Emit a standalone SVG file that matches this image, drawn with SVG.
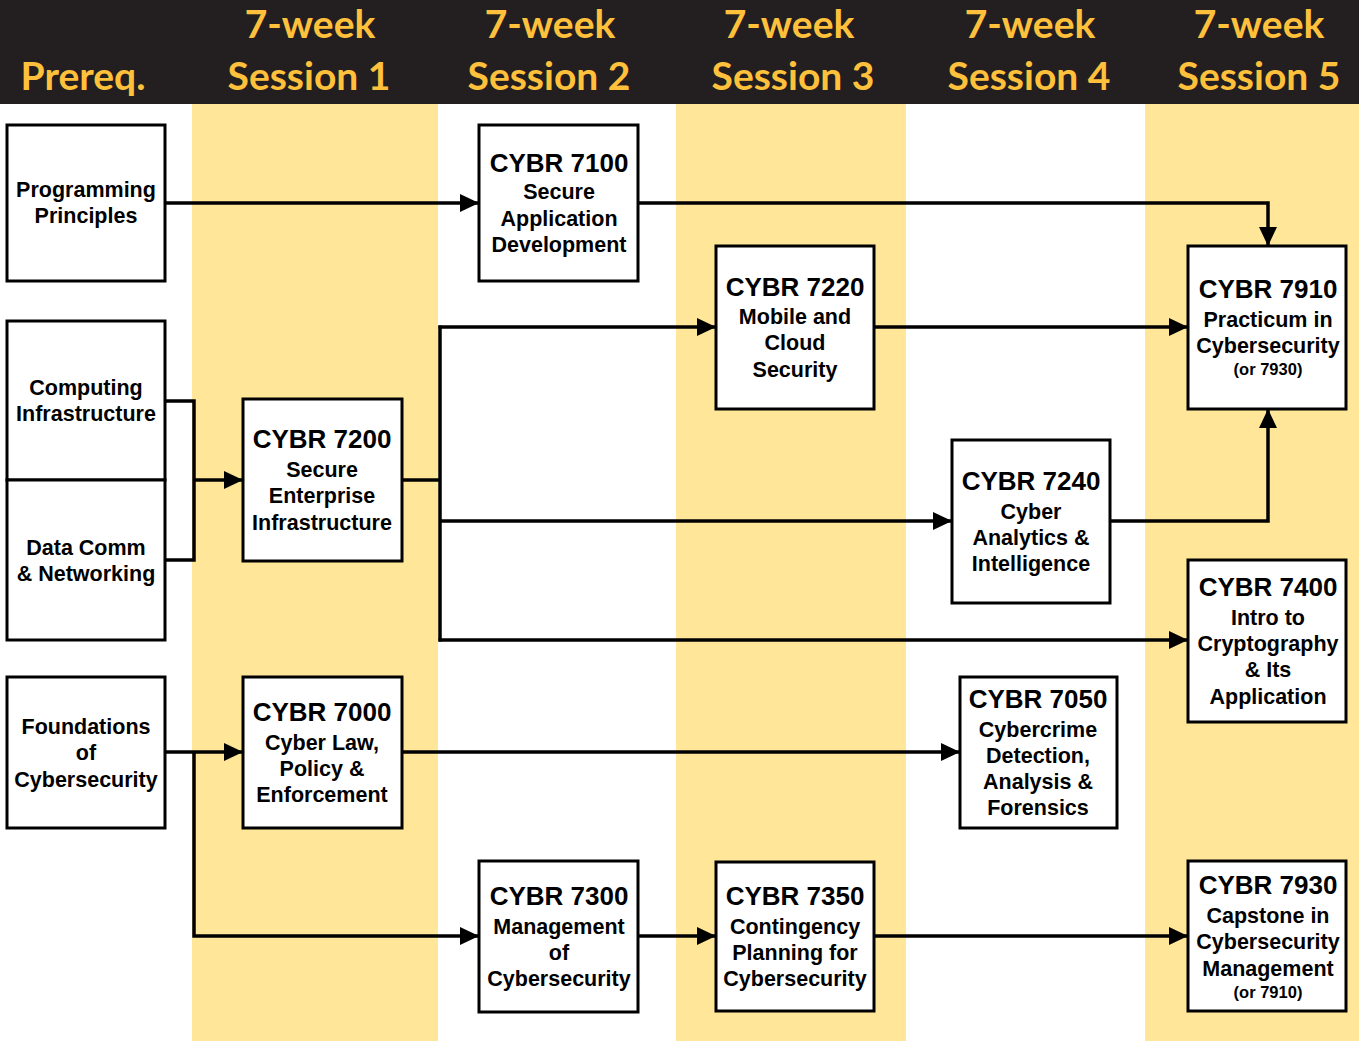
<svg xmlns="http://www.w3.org/2000/svg" width="1359" height="1041" viewBox="0 0 1359 1041">
<style>
.hd{font-family:Lato,"Liberation Sans",sans-serif;font-weight:bold;font-size:39px;fill:#FFC13B;text-anchor:middle}
.box{fill:#fff;stroke:#000;stroke-width:3}
.t{font-family:"Liberation Sans",Arial,sans-serif;font-weight:bold;text-anchor:middle;fill:#000}
.ti{font-size:26px}
.st{font-size:21.5px}
.sm{font-size:16.5px}
.ln{fill:none;stroke:#000;stroke-width:3.5;stroke-linejoin:miter}
.ar{marker-end:url(#ah)}
</style>
<defs>
<marker id="ah" viewBox="0 0 19 18" refX="19" refY="9" markerWidth="19" markerHeight="18" markerUnits="userSpaceOnUse" orient="auto">
<path d="M0,0 L19,9 L0,18 z" fill="#000"/>
</marker>
</defs>
<rect x="0" y="0" width="1359" height="1041" fill="#fff"/>
<g id="columns">
<rect x="192" y="104" width="246" height="937" fill="#FFE699"/>
<rect x="676" y="104" width="230" height="937" fill="#FFE699"/>
<rect x="1145" y="104" width="214" height="937" fill="#FFE699"/>
</g>
<g id="header">
<rect x="0" y="0" width="1359" height="104" fill="#231F20"/>
<text class="hd" x="83" y="90">Prereq.</text>
<text class="hd" x="310" y="38">7-week</text><text class="hd" x="309" y="90">Session 1</text>
<text class="hd" x="550" y="38">7-week</text><text class="hd" x="549" y="90">Session 2</text>
<text class="hd" x="789" y="38">7-week</text><text class="hd" x="793" y="90">Session 3</text>
<text class="hd" x="1030" y="38">7-week</text><text class="hd" x="1029" y="90">Session 4</text>
<text class="hd" x="1259" y="38">7-week</text><text class="hd" x="1259" y="90">Session 5</text>
</g>
<g id="connectors">
<path class="ln ar" d="M165,203 H479"/>
<path class="ln ar" d="M638,203 H1268 V246"/>
<path class="ln" d="M165,401 H194 V560 H165"/>
<path class="ln ar" d="M194,480 H243"/>
<path class="ln" d="M402,480 H440"/>
<path class="ln" d="M440,325.5 V641.5"/>
<path class="ln ar" d="M438.5,327 H716"/>
<path class="ln ar" d="M440,521 H952"/>
<path class="ln ar" d="M438.5,640 H1188"/>
<path class="ln ar" d="M874,327 H1188"/>
<path class="ln ar" d="M1110,521 H1268 V409"/>
<path class="ln ar" d="M165,752 H243"/>
<path class="ln ar" d="M194,752 V936 H479"/>
<path class="ln ar" d="M402,752 H960"/>
<path class="ln ar" d="M638,936 H716"/>
<path class="ln ar" d="M874,936 H1188"/>
</g>
<g id="n-prog">
<rect class="box" x="7" y="125" width="158" height="156"/>
<text class="t st" x="86" y="197">Programming</text>
<text class="t st" x="86" y="223">Principles</text>
</g>
<g id="n-comp">
<rect class="box" x="7" y="321" width="158" height="159"/>
<text class="t st" x="86" y="395">Computing</text>
<text class="t st" x="86" y="421">Infrastructure</text>
</g>
<g id="n-datacomm">
<rect class="box" x="7" y="480" width="158" height="160"/>
<text class="t st" x="86" y="555">Data Comm</text>
<text class="t st" x="86" y="581">&amp; Networking</text>
</g>
<g id="n-found">
<rect class="box" x="7" y="677" width="158" height="151"/>
<text class="t st" x="86" y="734">Foundations</text>
<text class="t st" x="86" y="760">of</text>
<text class="t st" x="86" y="787">Cybersecurity</text>
</g>
<g id="n-7100">
<rect class="box" x="479" y="125" width="159" height="156"/>
<text class="t ti" x="559" y="172">CYBR 7100</text>
<text class="t st" x="559" y="199">Secure</text>
<text class="t st" x="559" y="226">Application</text>
<text class="t st" x="559" y="252">Development</text>
</g>
<g id="n-7200">
<rect class="box" x="243" y="399" width="159" height="162"/>
<text class="t ti" x="322" y="448">CYBR 7200</text>
<text class="t st" x="322" y="477">Secure</text>
<text class="t st" x="322" y="503">Enterprise</text>
<text class="t st" x="322" y="530">Infrastructure</text>
</g>
<g id="n-7000">
<rect class="box" x="243" y="677" width="159" height="151"/>
<text class="t ti" x="322" y="721">CYBR 7000</text>
<text class="t st" x="322" y="750">Cyber Law,</text>
<text class="t st" x="322" y="776">Policy &amp;</text>
<text class="t st" x="322" y="802">Enforcement</text>
</g>
<g id="n-7220">
<rect class="box" x="716" y="246" width="158" height="163"/>
<text class="t ti" x="795" y="296">CYBR 7220</text>
<text class="t st" x="795" y="324">Mobile and</text>
<text class="t st" x="795" y="350">Cloud</text>
<text class="t st" x="795" y="377">Security</text>
</g>
<g id="n-7240">
<rect class="box" x="952" y="440" width="158" height="163"/>
<text class="t ti" x="1031" y="490">CYBR 7240</text>
<text class="t st" x="1031" y="519">Cyber</text>
<text class="t st" x="1031" y="545">Analytics &amp;</text>
<text class="t st" x="1031" y="571">Intelligence</text>
</g>
<g id="n-7050">
<rect class="box" x="960" y="677" width="157" height="151"/>
<text class="t ti" x="1038" y="708">CYBR 7050</text>
<text class="t st" x="1038" y="737">Cybercrime</text>
<text class="t st" x="1038" y="763">Detection,</text>
<text class="t st" x="1038" y="789">Analysis &amp;</text>
<text class="t st" x="1038" y="815">Forensics</text>
</g>
<g id="n-7300">
<rect class="box" x="479" y="861" width="159" height="151"/>
<text class="t ti" x="559" y="905">CYBR 7300</text>
<text class="t st" x="559" y="934">Management</text>
<text class="t st" x="559" y="960">of</text>
<text class="t st" x="559" y="986">Cybersecurity</text>
</g>
<g id="n-7350">
<rect class="box" x="716" y="862" width="158" height="149"/>
<text class="t ti" x="795" y="905">CYBR 7350</text>
<text class="t st" x="795" y="934">Contingency</text>
<text class="t st" x="795" y="960">Planning for</text>
<text class="t st" x="795" y="986">Cybersecurity</text>
</g>
<g id="n-7910">
<rect class="box" x="1188" y="246" width="158" height="163"/>
<text class="t ti" x="1268" y="298">CYBR 7910</text>
<text class="t st" x="1268" y="327">Practicum in</text>
<text class="t st" x="1268" y="353">Cybersecurity</text>
<text class="t sm" x="1268" y="375">(or 7930)</text>
</g>
<g id="n-7400">
<rect class="box" x="1188" y="560" width="158" height="162"/>
<text class="t ti" x="1268" y="596">CYBR 7400</text>
<text class="t st" x="1268" y="625">Intro to</text>
<text class="t st" x="1268" y="651">Cryptography</text>
<text class="t st" x="1268" y="677">&amp; Its</text>
<text class="t st" x="1268" y="704">Application</text>
</g>
<g id="n-7930">
<rect class="box" x="1188" y="861" width="158" height="150"/>
<text class="t ti" x="1268" y="894">CYBR 7930</text>
<text class="t st" x="1268" y="923">Capstone in</text>
<text class="t st" x="1268" y="949">Cybersecurity</text>
<text class="t st" x="1268" y="976">Management</text>
<text class="t sm" x="1268" y="998">(or 7910)</text>
</g>
</svg>
